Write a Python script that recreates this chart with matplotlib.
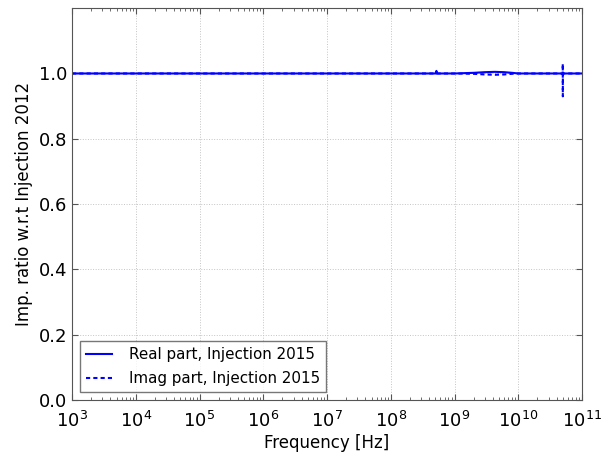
import numpy as np
import matplotlib
matplotlib.use('Agg')
import matplotlib.pyplot as plt
from matplotlib.ticker import LogLocator, NullFormatter

# impedance ratio 2015 / 2012, sampled on a log frequency grid
freq = [1e3, 1e4, 1e5, 1e6, 1e7, 1e8, 4.9e8, 5.1e8, 5.2e8, 5.3e8, 5.5e8, 1e9,
        2e9, 3e9, 4.3e9, 6e9, 8e9, 1e10, 1.5e10, 3e10, 4.98e10, 4.99e10,
        5.0e10, 5.01e10, 7e10, 1e11]
real_part = [1.0, 1.0, 1.0, 1.0, 1.0, 1.0, 1.0, 1.0, 1.008, 1.0, 1.0, 1.0,
             1.002, 1.004, 1.005, 1.004, 1.002, 1.0, 1.0, 1.0, 1.0, 1.0,
             1.0, 1.0, 1.0, 1.0]
imag_part = [1.0, 1.0, 1.0, 1.0, 1.0, 1.0, 1.0, 1.0, 1.0, 1.0, 1.0, 1.0,
             0.999, 0.997, 0.996, 0.997, 0.999, 1.0, 1.0, 1.0, 1.0, 1.03,
             0.93, 1.0, 1.0, 1.0]

fig = plt.figure(figsize=(6.02, 4.55), dpi=100)
ax = fig.add_axes([0.1196, 0.121, 0.8472, 0.861])

ax.plot(freq, real_part, '-', color='#0000ff', lw=1.5, label='Real part, Injection 2015')
ax.plot(freq, imag_part, '--', color='#0000ff', lw=1.5, dashes=(2, 1.5),
        label='Imag part, Injection 2015')

ax.set_xscale('log')
ax.set_xlim(1e3, 1e11)
ax.set_ylim(0, 1.2)
ax.set_yticks(np.arange(0, 1.01, 0.2))
ax.xaxis.set_major_locator(LogLocator(base=10, numticks=20))
ax.xaxis.set_minor_locator(LogLocator(base=10, subs=np.arange(2, 10), numticks=20))
ax.xaxis.set_minor_formatter(NullFormatter())
ax.grid(True, which='major', color='#c4c4c4', linestyle=':', linewidth=0.7)
ax.tick_params(which='both', direction='in', top=True, right=True, labelsize=13,
               color='#555555')
ax.tick_params(which='major', length=4)
ax.tick_params(which='minor', length=2)
ax.tick_params(axis='x', pad=8)
for s in ax.spines.values():
    s.set_color('#555555')

ax.set_xlabel('Frequency [Hz]', fontsize=12, labelpad=2)
ax.set_ylabel('Imp. ratio w.r.t Injection 2012', fontsize=12)

leg = ax.legend(loc='lower left', fontsize=10.9, fancybox=False,
                handlelength=1.75, handletextpad=1.1, labelspacing=0.6,
                borderaxespad=0.5)
leg.get_frame().set_edgecolor('#555555')

fig.savefig('out.png', dpi=100)
